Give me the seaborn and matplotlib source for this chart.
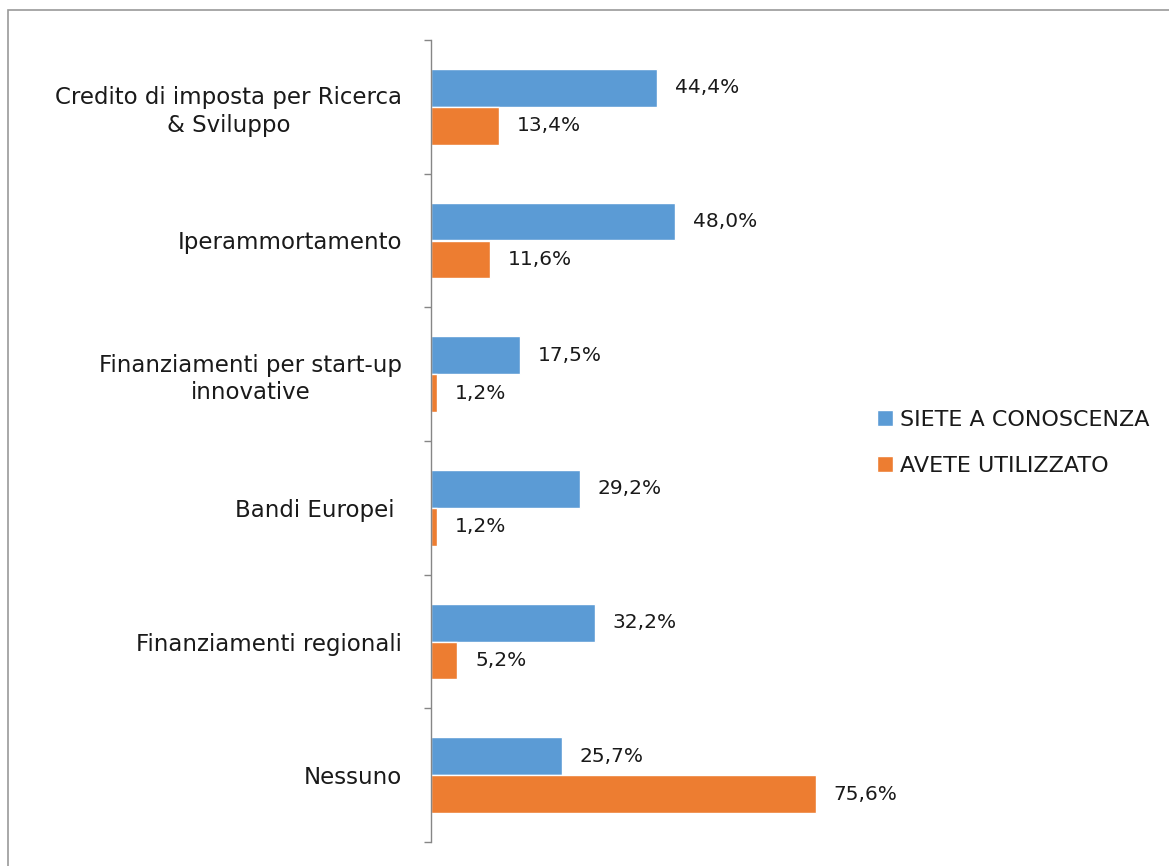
import matplotlib
matplotlib.use("Agg")
import matplotlib.pyplot as plt
import seaborn as sns
import pandas as pd
from matplotlib.patches import Rectangle

categories = [
    "Credito di imposta per Ricerca\n& Sviluppo",
    "Iperammortamento",
    "Finanziamenti per start-up\ninnovative",
    "Bandi Europei ",
    "Finanziamenti regionali",
    "Nessuno",
]
series_names = ["SIETE A CONOSCENZA", "AVETE UTILIZZATO"]
conoscenza = [44.4, 48.0, 17.5, 29.2, 32.2, 25.7]
utilizzato = [13.4, 11.6, 1.2, 1.2, 5.2, 75.6]
colors = ["#5B9BD5", "#ED7D31"]

df = pd.DataFrame({
    "categoria": categories * 2,
    "serie": [series_names[0]] * len(categories) + [series_names[1]] * len(categories),
    "valore": conoscenza + utilizzato,
})

sns.set_style("white")
plt.rcParams["font.family"] = ["DejaVu Sans"]

W, H = 1169, 866
fig = plt.figure(figsize=(W / 100, H / 100), dpi=100)
ax = fig.add_axes([431 / W, 1 - 842 / H, (838 - 431) / W, (842 - 40) / H])

sns.barplot(data=df, y="categoria", x="valore", hue="serie", orient="h",
            palette=colors, width=0.567, dodge=True, ax=ax,
            saturation=1, errorbar=None, legend=True)

ax.set_xlim(0, 80)
ax.set_ylim(len(categories) - 0.5, -0.5)
ax.set_xlabel("")
ax.set_ylabel("")
ax.set_xticks([])

TXT = "#1a1a1a"

# value labels
for cont, vals in zip(ax.containers, [conoscenza, utilizzato]):
    for bar, v in zip(cont, vals):
        ax.annotate(f"{v:.1f}%".replace(".", ","),
                    xy=(bar.get_width(), bar.get_y() + bar.get_height() / 2),
                    xytext=(13, 0), textcoords="offset points",
                    ha="left", va="center", fontsize=14.5, color=TXT)

# tick marks at category boundaries, labels at centers
ax.set_yticks([i - 0.5 for i in range(len(categories) + 1)])
ax.set_yticklabels([])
ax.set_yticks(range(len(categories)), minor=True)
ax.set_yticklabels(categories, minor=True, fontsize=16.5, color=TXT,
                   multialignment="center", linespacing=1.25)
ax.tick_params(axis="y", which="major", length=5, width=1, color="#868686", left=True)
ax.tick_params(axis="y", which="minor", length=0, pad=21)

for s in ["top", "right", "bottom"]:
    ax.spines[s].set_visible(False)
ax.spines["left"].set_color("#868686")
ax.spines["left"].set_linewidth(1)

leg = ax.legend(loc="upper left", bbox_to_anchor=(857 / W, 1 - 390 / H),
                bbox_transform=fig.transFigure, frameon=False,
                fontsize=16, handlelength=0.72, handleheight=0.72,
                handletextpad=0.3, labelspacing=1.15)
for t in leg.get_texts():
    t.set_color(TXT)

fig.patches.append(Rectangle((8 / W, -0.1), 1.2, 1 - 10 / H + 0.1,
                             transform=fig.transFigure, fill=False,
                             edgecolor="#9a9a9a", linewidth=1.2))

fig.savefig("out.png", dpi=100)
